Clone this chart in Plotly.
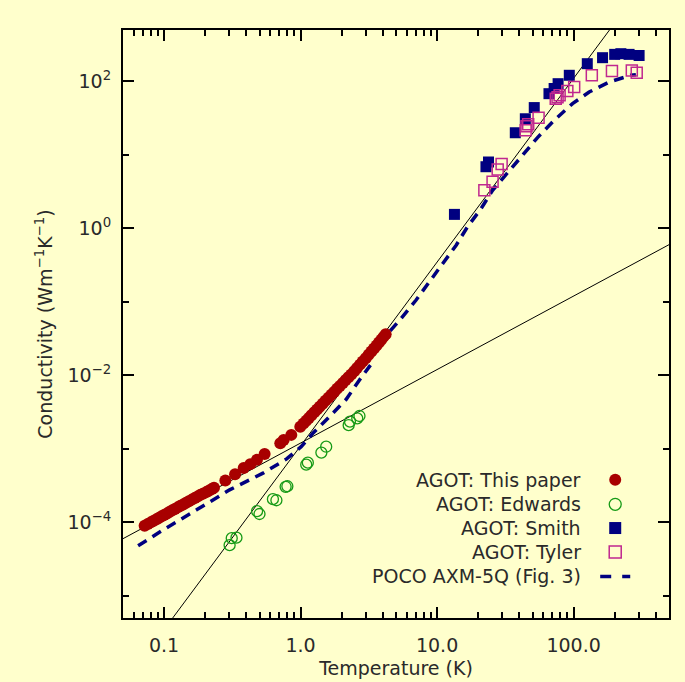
import math
import plotly.graph_objects as go

# ---------------- data ----------------
# AGOT: This paper  (temperature K, conductivity W m^-1 K^-1)
paper_T = [0.072, 0.076, 0.080, 0.084, 0.088, 0.092, 0.096, 0.100, 0.105, 0.110,
           0.115, 0.120, 0.126, 0.132, 0.138, 0.145, 0.152, 0.160, 0.168, 0.176,
           0.185, 0.194, 0.204, 0.214, 0.224, 0.232,
           0.281, 0.331, 0.383, 0.428, 0.479, 0.545, 0.710, 0.751, 0.855, 0.995,
           1.05, 1.10, 1.15, 1.20, 1.26, 1.32, 1.38, 1.45, 1.52, 1.60, 1.68, 1.76,
           1.85, 1.94, 2.04, 2.14, 2.24, 2.35, 2.47, 2.59, 2.72, 2.85, 3.00, 3.15,
           3.30, 3.45, 3.60, 3.75, 3.90, 4.05, 4.20]
paper_k = [9.0e-5, 9.5e-5, 1.00e-4, 1.05e-4, 1.10e-4, 1.16e-4, 1.21e-4, 1.26e-4, 1.32e-4, 1.39e-4,
           1.46e-4, 1.52e-4, 1.60e-4, 1.68e-4, 1.75e-4, 1.85e-4, 1.94e-4, 2.04e-4, 2.15e-4, 2.25e-4,
           2.37e-4, 2.47e-4, 2.58e-4, 2.72e-4, 2.85e-4, 2.95e-4,
           3.7e-4, 4.5e-4, 5.5e-4, 6.2e-4, 7.1e-4, 8.5e-4, 1.19e-3, 1.32e-3, 1.55e-3, 2.0e-3,
           2.21e-3, 2.42e-3, 2.63e-3, 2.86e-3, 3.14e-3, 3.44e-3, 3.74e-3, 4.11e-3, 4.51e-3, 4.97e-3, 5.46e-3, 5.96e-3,
           6.56e-3, 7.18e-3, 7.89e-3, 8.65e-3, 9.44e-3, 1.03e-2, 1.14e-2, 1.26e-2, 1.40e-2, 1.54e-2, 1.71e-2, 1.91e-2,
           2.11e-2, 2.32e-2, 2.55e-2, 2.80e-2, 3.06e-2, 3.34e-2, 3.63e-2]

# AGOT: Edwards
edwards_T = [0.302, 0.313, 0.339, 0.480, 0.500, 0.627, 0.665, 0.777, 0.800,
             1.10, 1.13, 1.42, 1.54, 2.25, 2.30, 2.60, 2.70]
edwards_k = [4.9e-5, 6.1e-5, 6.2e-5, 1.42e-4, 1.30e-4, 2.07e-4, 2.00e-4, 3.05e-4, 3.10e-4,
             6.1e-4, 6.5e-4, 8.9e-4, 1.07e-3, 2.10e-3, 2.35e-3, 2.60e-3, 2.80e-3]

# AGOT: Smith
smith_T = [13.4, 22.8, 23.8, 37.4, 44.3, 51.5, 66.0, 72.0, 77.0, 93.0,
           126.0, 163.0, 200.0, 222.0, 255.0, 302.0]
smith_k = [1.55, 6.9, 8.0, 20.0, 31.0, 44.0, 68.0, 80.0, 93.0, 121.0,
           174.0, 210.0, 233.0, 238.0, 233.0, 225.0]

# AGOT: Tyler
tyler_T = [22.2, 25.5, 27.8, 29.7, 44.5, 45.2, 46.5, 55.4, 74.0, 76.3, 79.0,
           90.0, 101.0, 136.0, 191.0, 267.0, 290.0]
tyler_k = [3.3, 4.3, 6.3, 7.5, 21.6, 24.5, 26.0, 32.0, 58.0, 61.0, 65.0,
           74.0, 84.0, 121.0, 138.0, 141.0, 131.0]

# POCO AXM-5Q (Fig. 3) curve (None = break between the two pieces)
poco_T = [0.0645, 0.0984, 0.173, 0.302, 0.530, 0.786, 1.01, 1.23, 1.63, 2.16, 2.70, 3.25,
          None,
          3.85, 4.48, 5.46, 7.02, 8.79, 10.7, 13.8, 16.7, 21.0, 25.5, 32.9, 42.3, 54.4,
          72.1, 98.2, 130.0, 182.0, 262.0, 286.0]
poco_k = [4.8e-5, 7.9e-5, 1.48e-4, 2.77e-4, 4.67e-4, 7.25e-4, 1.07e-3, 1.63e-3, 2.75e-3, 4.73e-3, 8.65e-3, 1.38e-2,
          None,
          2.6e-2, 3.93e-2, 5.97e-2, 0.106, 0.188, 0.316, 0.591, 1.05, 1.86, 3.30, 5.86, 9.9, 17.2,
          29.5, 49.8, 71.6, 97.8, 121.0, 123.0]

# Power-law guide lines (end points)
fit1_T = [0.05, 500.0]
fit1_k = [6.0e-5, 0.60]
fit2_T = [0.10, 200.0]
fit2_k = [3.48e-6, 622.0]

legend_labels = ["AGOT: This paper", "AGOT: Edwards", "AGOT: Smith", "AGOT: Tyler",
                 "POCO AXM-5Q (Fig. 3)"]

x_tickvals = [0.1, 1, 10, 100]
x_ticktext = ["0.1", "1.0", "10.0", "100.0"]
x_minor = [0.06, 0.07, 0.08, 0.09, 0.2, 0.3, 0.4, 0.5, 0.6, 0.7, 0.8, 0.9,
           2, 3, 4, 5, 6, 7, 8, 9, 20, 30, 40, 50, 60, 70, 80, 90, 200, 300, 400]
y_tickvals = [1e-4, 1e-2, 1, 1e2]
y_ticktext = ["10<sup>\u22124</sup>", "10<sup>\u22122</sup>", "10<sup>0</sup>", "10<sup>2</sup>"]
y_minor = [1e-5, 1e-3, 1e-1, 1e1]

# ---------------- styles ----------------
BG = "#FFFFCC"
RED = "#A80000"
GREEN = "#169A16"
NAVY = "#000080"
MAGENTA = "#C0288F"
TXT = "#2a2a2a"
FONT = "DejaVu Sans"
FS = 19

fig = go.Figure()

fig.add_trace(go.Scatter(x=fit1_T, y=fit1_k, mode="lines",
                         line=dict(color="black", width=1), showlegend=False))
fig.add_trace(go.Scatter(x=fit2_T, y=fit2_k, mode="lines",
                         line=dict(color="black", width=1), showlegend=False))
fig.add_trace(go.Scatter(x=poco_T, y=poco_k, mode="lines", connectgaps=False,
                         line=dict(color=NAVY, width=3.5, dash="10px,7px"), showlegend=False))
fig.add_trace(go.Scatter(x=edwards_T, y=edwards_k, mode="markers",
                         marker=dict(symbol="circle-open", size=11, color=GREEN,
                                     line=dict(width=1.3, color=GREEN)), showlegend=False))
fig.add_trace(go.Scatter(x=paper_T, y=paper_k, mode="markers",
                         marker=dict(symbol="circle", size=12, color=RED,
                                     line=dict(width=0)), showlegend=False))
fig.add_trace(go.Scatter(x=smith_T, y=smith_k, mode="markers",
                         marker=dict(symbol="square", size=11, color=NAVY,
                                     line=dict(width=0)), showlegend=False))
fig.add_trace(go.Scatter(x=tyler_T, y=tyler_k, mode="markers",
                         marker=dict(symbol="square-open", size=11, color=MAGENTA,
                                     line=dict(width=1.5, color=MAGENTA)), showlegend=False))

# ---------------- manual legend (text right, key to the right) ----------------
row_y = [0.2351, 0.1933, 0.1530, 0.1122, 0.0707]
text_x = 0.843
key_x = 0.9015
for lab, yy in zip(legend_labels, row_y):
    fig.add_annotation(x=text_x, y=yy, xref="paper", yref="paper", text=lab,
                       showarrow=False, xanchor="right", yanchor="middle",
                       font=dict(family=FONT, size=FS, color=TXT))

def key_shape(kind, yy, fill, line_color, lw):
    return dict(type=kind, xref="paper", yref="paper", xsizemode="pixel", ysizemode="pixel",
                xanchor=key_x, yanchor=yy, x0=-6, x1=6, y0=-6, y1=6,
                fillcolor=fill, line=dict(color=line_color, width=lw))

fig.add_shape(key_shape("circle", row_y[0], RED, RED, 0))
fig.add_shape(key_shape("circle", row_y[1], "rgba(0,0,0,0)", GREEN, 1.3))
fig.add_shape(key_shape("rect", row_y[2], NAVY, NAVY, 0))
fig.add_shape(key_shape("rect", row_y[3], "rgba(0,0,0,0)", MAGENTA, 1.5))
fig.add_shape(dict(type="line", xref="paper", yref="paper",
                   x0=0.874, x1=0.929, y0=row_y[4], y1=row_y[4],
                   line=dict(color=NAVY, width=3.5, dash="11px,11px")))

axis_common = dict(
    type="log", showgrid=False, zeroline=False,
    showline=True, linewidth=2, linecolor="black", mirror="allticks",
    ticks="inside", ticklen=11, tickwidth=1.5, tickcolor="black",
    tickfont=dict(family=FONT, size=FS, color=TXT),
)

fig.update_xaxes(**axis_common,
                 range=[math.log10(0.05), math.log10(500)],
                 tickmode="array", tickvals=x_tickvals, ticktext=x_ticktext,
                 minor=dict(tickmode="array", tickvals=x_minor, ticks="inside",
                            ticklen=6, tickwidth=1.5, tickcolor="black", showgrid=False),
                 ticklabelstandoff=9,
                 title=dict(text="Temperature (K)", standoff=7,
                            font=dict(family=FONT, size=FS, color=TXT)))
fig.update_yaxes(**axis_common,
                 range=[math.log10(5e-6), math.log10(500)],
                 tickmode="array", tickvals=y_tickvals, ticktext=y_ticktext,
                 minor=dict(tickmode="array", tickvals=y_minor, ticks="inside",
                            ticklen=6, tickwidth=1.5, tickcolor="black", showgrid=False),
                 ticklabelstandoff=6,
                 title=dict(text="Conductivity (Wm<sup>\u22121</sup>K<sup>\u22121</sup>)", standoff=10,
                            font=dict(family=FONT, size=FS, color=TXT)))

fig.update_layout(width=685, height=682,
                  margin=dict(l=123, r=16, t=30, b=64, autoexpand=False),
                  paper_bgcolor=BG, plot_bgcolor=BG, showlegend=False,
                  font=dict(family=FONT, size=FS, color=TXT))

fig.write_html("out.html", config={"displayModeBar": False},
               post_script="document.body.style.margin='0px';document.body.style.overflow='hidden';")
